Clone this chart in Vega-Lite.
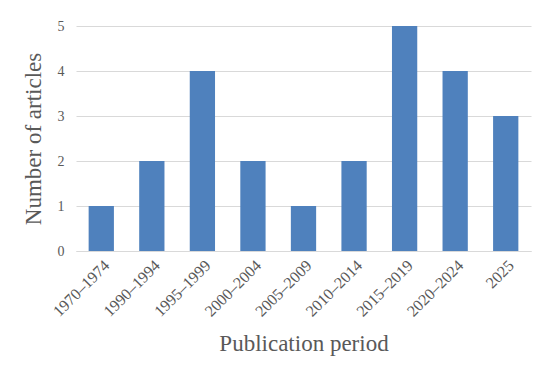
{
  "$schema": "https://vega.github.io/schema/vega-lite/v6.json",
  "width": 550,
  "height": 384,
  "autosize": {"type": "fit", "contains": "padding"},
  "padding": {"left": 22, "top": 19, "right": 19, "bottom": 28},
  "background": "white",
  "data": {
    "values": [
      {"period": "1970–1974", "count": 1},
      {"period": "1990–1994", "count": 2},
      {"period": "1995–1999", "count": 4},
      {"period": "2000–2004", "count": 2},
      {"period": "2005–2009", "count": 1},
      {"period": "2010–2014", "count": 2},
      {"period": "2015–2019", "count": 5},
      {"period": "2020–2024", "count": 4},
      {"period": "2025", "count": 3}
    ]
  },
  "mark": {"type": "bar", "color": "#4f81bd"},
  "encoding": {
    "x": {
      "field": "period",
      "type": "nominal",
      "sort": null,
      "scale": {"paddingInner": 0.5, "paddingOuter": 0.25},
      "axis": {
        "title": "Publication period",
        "titleFont": "Liberation Serif",
        "titleFontSize": 23,
        "titleFontWeight": "normal",
        "titleColor": "#595959",
        "titlePadding": 13,
        "labelFont": "Liberation Serif",
        "labelFontSize": 16,
        "labelColor": "#595959",
        "labelAngle": -45,
        "labelPadding": 6,
        "ticks": false,
        "domainColor": "#d9d9d9",
        "domainWidth": 1
      }
    },
    "y": {
      "field": "count",
      "type": "quantitative",
      "scale": {"domain": [0, 5]},
      "axis": {
        "title": "Number of articles",
        "titleFont": "Liberation Serif",
        "titleFontSize": 23,
        "titleFontWeight": "normal",
        "titleColor": "#595959",
        "titlePadding": 12,
        "labelFont": "Liberation Serif",
        "labelFontSize": 14,
        "labelColor": "#595959",
        "labelPadding": 12,
        "values": [0, 1, 2, 3, 4, 5],
        "ticks": false,
        "domain": false,
        "gridColor": "#d9d9d9",
        "gridWidth": 1
      }
    }
  },
  "config": {"view": {"stroke": null}}
}
